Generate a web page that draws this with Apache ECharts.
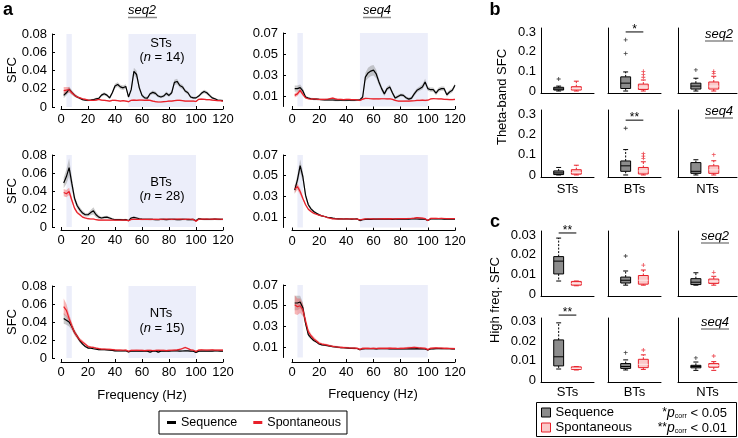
<!DOCTYPE html>
<html><head><meta charset="utf-8">
<script src="https://cdn.jsdelivr.net/npm/echarts@6/dist/echarts.min.js"></script>
<style>html,body{margin:0;padding:0;background:#fff}#c{width:738px;height:438px}</style>
</head><body><div id="c"></div>
<script>
// ---------------- DATA ----------------
const freq = [2,4,6,8,10,12,14,16,18,20,22,24,26,28,30,32,34,36,38,40,42,44,46,48,50,52,54,56,58,60,62,64,66,68,70,72,74,76,78,80,82,84,86,88,90,92,94,96,98,100,102,104,106,108,110,112,114,116,118,120];
const freqTicks = [0,20,40,60,80,100,120];
const seq2Ticks = [0,0.02,0.04,0.06,0.08];
const seq4Ticks = [0.01,0.03,0.05,0.07];
const thetaBand = [4, 8];
const highBand = [50, 100];
const cellTypes = ['STs','BTs','NTs'];
const cellCounts = [14, 28, 15];
const conditions = ['Sequence','Spontaneous'];

// STs, seq2
const st2Seq = [0.0127,0.0156,0.0195,0.016,0.013,0.011,0.0095,0.008,0.0076,0.0073,
 0.0076,0.008,0.009,0.0095,0.013,0.0145,0.013,0.010,0.0156,0.023,
 0.0247,0.022,0.021,0.0225,0.011,0.019,0.039,0.0356,0.021,0.0127,
 0.010,0.0098,0.0145,0.016,0.015,0.012,0.011,0.012,0.015,0.0127,
 0.0156,0.027,0.028,0.0236,0.022,0.0175,0.0156,0.011,0.010,0.010,
 0.012,0.015,0.017,0.0156,0.0127,0.010,0.009,0.0076,0.0073,0.007];
const st2SeqErr = [0.003,0.003,0.003,0.0025,0.002,0.0015,0.0012,0.001,0.001,0.001,
 0.001,0.001,0.0012,0.0012,0.0015,0.0018,0.0015,0.0015,0.002,0.0025,
 0.0025,0.0025,0.0025,0.0025,0.0015,0.0025,0.004,0.004,0.003,0.002,
 0.0015,0.0015,0.0018,0.002,0.002,0.0015,0.0015,0.0015,0.002,0.0018,
 0.002,0.003,0.003,0.0025,0.0025,0.002,0.002,0.0015,0.0012,0.0012,
 0.0015,0.0018,0.002,0.002,0.0018,0.0015,0.0012,0.001,0.001,0.001];
const st2Spon = [0.018,0.0185,0.019,0.0156,0.013,0.011,0.010,0.009,0.0084,0.0076,
 0.0073,0.0073,0.0076,0.0084,0.0076,0.0073,0.007,0.0065,0.0073,0.0073,
 0.007,0.0065,0.007,0.0065,0.0058,0.0073,0.0076,0.0073,0.0076,0.0076,
 0.0073,0.0076,0.0073,0.0065,0.0058,0.0055,0.0055,0.0058,0.006,0.0065,
 0.0065,0.007,0.0073,0.0073,0.007,0.0065,0.0065,0.0065,0.0065,0.006,
 0.0084,0.0087,0.0084,0.008,0.008,0.0076,0.0073,0.007,0.007,0.0065];
const st2SponErr = [0.004,0.0035,0.003,0.002,0.0015,0.001,0.001,0.0008,0.0008,0.0008,
 0.0008,0.0008,0.0008,0.0008,0.0008,0.0008,0.0008,0.0008,0.0008,0.0008,
 0.0008,0.0008,0.0008,0.0008,0.0008,0.0008,0.0008,0.0008,0.0008,0.0008,
 0.0008,0.0008,0.0008,0.0008,0.0008,0.0008,0.0008,0.0008,0.0008,0.0008,
 0.0008,0.0008,0.0008,0.0008,0.0008,0.0008,0.0008,0.0008,0.0008,0.0008,
 0.0008,0.0008,0.0008,0.0008,0.0008,0.0008,0.0008,0.0008,0.0008,0.0008];

// STs, seq4
const st4Seq = [0.017,0.017,0.018,0.0148,0.009,0.008,0.0074,0.007,0.007,0.0067,
 0.0065,0.0064,0.0063,0.0062,0.0062,0.006,0.006,0.0062,0.006,0.006,
 0.0062,0.006,0.006,0.0062,0.0064,0.009,0.028,0.032,0.0337,0.0346,
 0.031,0.0234,0.017,0.012,0.017,0.0186,0.0128,0.008,0.0096,0.011,
 0.0106,0.0083,0.007,0.008,0.012,0.0154,0.017,0.0186,0.0234,0.017,
 0.016,0.016,0.0128,0.016,0.017,0.017,0.0112,0.0138,0.0154,0.0202];
const st4SeqErr = [0.003,0.003,0.003,0.0025,0.0015,0.001,0.001,0.001,0.001,0.001,
 0.001,0.001,0.001,0.001,0.001,0.001,0.001,0.001,0.001,0.001,
 0.001,0.001,0.001,0.001,0.001,0.002,0.004,0.005,0.005,0.005,
 0.004,0.003,0.0025,0.002,0.002,0.002,0.002,0.0015,0.0015,0.0015,
 0.0015,0.0015,0.0015,0.0015,0.002,0.002,0.002,0.0025,0.003,0.002,
 0.002,0.002,0.002,0.002,0.002,0.002,0.002,0.002,0.002,0.002];
const st4Spon = [0.0106,0.012,0.0154,0.0115,0.0083,0.0074,0.007,0.0074,0.007,0.0067,
 0.0067,0.0067,0.0069,0.0075,0.008,0.0072,0.0067,0.0067,0.0065,0.0067,
 0.0067,0.0065,0.0065,0.0063,0.0058,0.007,0.0077,0.0076,0.0074,0.0072,
 0.0074,0.0072,0.0074,0.0074,0.0072,0.0074,0.0068,0.0058,0.0052,0.0051,
 0.0051,0.0052,0.0051,0.0053,0.0055,0.0058,0.0058,0.006,0.0058,0.006,
 0.0072,0.0075,0.0074,0.0072,0.0072,0.0068,0.0067,0.0066,0.0066,0.0067];
const st4SponErr = [0.002,0.002,0.002,0.0015,0.001,0.0008,0.0007,0.0007,0.0007,0.0007,
 0.0007,0.0007,0.0007,0.0007,0.0007,0.0007,0.0007,0.0007,0.0007,0.0007,
 0.0007,0.0007,0.0007,0.0007,0.0007,0.0007,0.0007,0.0007,0.0007,0.0007,
 0.0007,0.0007,0.0007,0.0007,0.0007,0.0007,0.0007,0.0007,0.0007,0.0007,
 0.0007,0.0007,0.0007,0.0007,0.0007,0.0007,0.0007,0.0007,0.0007,0.0007,
 0.0007,0.0007,0.0007,0.0007,0.0007,0.0007,0.0007,0.0007,0.0007,0.0007];

// BTs, seq2
const bt2Seq = [0.049,0.056,0.066,0.0487,0.032,0.0236,0.019,0.0155,0.0136,0.0136,
 0.016,0.018,0.0136,0.011,0.010,0.0107,0.011,0.010,0.0089,0.0081,
 0.0081,0.0081,0.008,0.0082,0.007,0.010,0.0107,0.010,0.0092,0.0088,
 0.0086,0.0085,0.0086,0.0084,0.0083,0.0082,0.0084,0.0085,0.0083,0.0085,
 0.0086,0.0084,0.0082,0.0083,0.0085,0.0084,0.0082,0.0083,0.0084,0.007,
 0.0092,0.0088,0.0085,0.0086,0.0085,0.0086,0.0087,0.0086,0.0085,0.0084];
const bt2SeqErr = [0.006,0.008,0.010,0.007,0.004,0.003,0.003,0.0025,0.002,0.002,
 0.003,0.004,0.003,0.002,0.0015,0.0015,0.0015,0.0015,0.0012,0.001,
 0.001,0.001,0.001,0.001,0.001,0.001,0.001,0.001,0.001,0.001,
 0.001,0.001,0.001,0.001,0.001,0.001,0.001,0.001,0.001,0.001,
 0.001,0.001,0.001,0.001,0.001,0.001,0.001,0.001,0.001,0.001,
 0.001,0.001,0.001,0.001,0.001,0.001,0.001,0.001,0.001,0.001];
const bt2Spon = [0.0383,0.037,0.0395,0.030,0.021,0.016,0.0136,0.011,0.010,0.0092,
 0.0089,0.0089,0.0081,0.0077,0.0077,0.0078,0.0077,0.0076,0.0077,0.0077,
 0.0078,0.0077,0.0076,0.0077,0.007,0.0084,0.0085,0.0086,0.0085,0.0084,
 0.0085,0.0086,0.0084,0.0085,0.0086,0.0084,0.0085,0.0086,0.0087,0.0086,
 0.0085,0.0086,0.0087,0.0088,0.0086,0.0085,0.0087,0.0086,0.0084,0.0063,
 0.0086,0.0088,0.0087,0.0088,0.0086,0.0087,0.0088,0.0087,0.0086,0.0085];
const bt2SponErr = [0.004,0.004,0.004,0.003,0.002,0.0015,0.001,0.001,0.001,0.001,
 0.0008,0.0008,0.0008,0.0008,0.0008,0.0008,0.0008,0.0008,0.0008,0.0008,
 0.0008,0.0008,0.0008,0.0008,0.0008,0.0008,0.0008,0.0008,0.0008,0.0008,
 0.0008,0.0008,0.0008,0.0008,0.0008,0.0008,0.0008,0.0008,0.0008,0.0008,
 0.0008,0.0008,0.0008,0.0008,0.0008,0.0008,0.0008,0.0008,0.0008,0.0008,
 0.0008,0.0008,0.0008,0.0008,0.0008,0.0008,0.0008,0.0008,0.0008,0.0008];

// BTs, seq4
const bt4Seq = [0.036,0.046,0.0597,0.049,0.031,0.022,0.018,0.0154,0.0138,0.0122,
 0.0112,0.0106,0.0099,0.0096,0.009,0.0085,0.0083,0.0083,0.0082,0.0083,
 0.0082,0.0081,0.0082,0.0083,0.0067,0.0075,0.0078,0.008,0.0079,0.008,
 0.0081,0.008,0.0082,0.008,0.0081,0.008,0.0079,0.008,0.0081,0.008,
 0.008,0.0081,0.008,0.0082,0.0083,0.0082,0.0081,0.0082,0.008,0.0067,
 0.0082,0.0083,0.0082,0.0083,0.0082,0.0081,0.0082,0.0081,0.0082,0.0081];
const bt4SeqErr = [0.004,0.005,0.006,0.005,0.003,0.002,0.0015,0.001,0.001,0.001,
 0.0006,0.0006,0.0006,0.0006,0.0006,0.0006,0.0006,0.0006,0.0006,0.0006,
 0.0006,0.0006,0.0006,0.0006,0.0006,0.0006,0.0006,0.0006,0.0006,0.0006,
 0.0006,0.0006,0.0006,0.0006,0.0006,0.0006,0.0006,0.0006,0.0006,0.0006,
 0.0006,0.0006,0.0006,0.0006,0.0006,0.0006,0.0006,0.0006,0.0006,0.0006,
 0.0006,0.0006,0.0006,0.0006,0.0006,0.0006,0.0006,0.0006,0.0006,0.0006];
const bt4Spon = [0.037,0.0395,0.0347,0.028,0.022,0.0176,0.0154,0.0138,0.0128,0.0119,
 0.0112,0.0106,0.0096,0.009,0.0083,0.0083,0.0082,0.0083,0.0082,0.0083,
 0.0082,0.0083,0.0082,0.0081,0.0074,0.0079,0.0083,0.0082,0.0084,0.0083,
 0.0082,0.0083,0.0084,0.0085,0.0084,0.0085,0.0083,0.0084,0.0085,0.0086,
 0.0085,0.0086,0.0087,0.0088,0.009,0.0096,0.0093,0.009,0.0085,0.0067,
 0.0088,0.0089,0.0088,0.0087,0.0088,0.0087,0.0086,0.0085,0.0086,0.0085];
const bt4SponErr = [0.004,0.003,0.003,0.002,0.0015,0.001,0.001,0.001,0.0008,0.0008,
 0.0006,0.0006,0.0006,0.0006,0.0006,0.0006,0.0006,0.0006,0.0006,0.0006,
 0.0006,0.0006,0.0006,0.0006,0.0006,0.0006,0.0006,0.0006,0.0006,0.0006,
 0.0006,0.0006,0.0006,0.0006,0.0006,0.0006,0.0006,0.0006,0.0006,0.0006,
 0.0006,0.0006,0.0006,0.0006,0.0006,0.0006,0.0006,0.0006,0.0006,0.0006,
 0.0006,0.0006,0.0006,0.0006,0.0006,0.0006,0.0006,0.0006,0.0006,0.0006];

// NTs, seq2
const nt2Seq = [0.044,0.042,0.040,0.035,0.0286,0.024,0.019,0.0154,0.0128,0.011,
 0.011,0.0103,0.0099,0.0092,0.0092,0.0092,0.009,0.0088,0.0085,0.008,
 0.008,0.0078,0.0079,0.008,0.0066,0.0078,0.0077,0.0079,0.0076,0.0078,
 0.0077,0.0075,0.0066,0.0076,0.0079,0.0065,0.0076,0.0078,0.0077,0.0076,
 0.0078,0.008,0.0079,0.0077,0.0078,0.008,0.0079,0.0077,0.0075,0.0062,
 0.0076,0.0078,0.0077,0.0078,0.0076,0.0077,0.0079,0.0078,0.0077,0.0076];
const nt2SeqErr = [0.006,0.005,0.005,0.004,0.003,0.0025,0.002,0.0015,0.0012,0.001,
 0.0008,0.0008,0.0008,0.0008,0.0008,0.0008,0.0008,0.0008,0.0008,0.0008,
 0.0008,0.0008,0.0008,0.0008,0.0008,0.0008,0.0008,0.0008,0.0008,0.0008,
 0.0008,0.0008,0.0008,0.0008,0.0008,0.0008,0.0008,0.0008,0.0008,0.0008,
 0.0008,0.0008,0.0008,0.0008,0.0008,0.0008,0.0008,0.0008,0.0008,0.0008,
 0.0008,0.0008,0.0008,0.0008,0.0008,0.0008,0.0008,0.0008,0.0008,0.0008];
const nt2Spon = [0.057,0.053,0.044,0.0356,0.0286,0.024,0.020,0.0176,0.0154,0.0128,
 0.012,0.0117,0.011,0.0104,0.0099,0.0099,0.0097,0.0095,0.0093,0.009,
 0.0088,0.0087,0.0086,0.0087,0.0075,0.0084,0.0085,0.0086,0.0085,0.0084,
 0.0082,0.0084,0.0085,0.0083,0.0084,0.0086,0.0085,0.0084,0.0083,0.0085,
 0.0086,0.0088,0.009,0.0095,0.0105,0.0117,0.0105,0.009,0.0086,0.0073,
 0.0088,0.009,0.0089,0.0088,0.0089,0.009,0.0088,0.0087,0.0088,0.0087];
const nt2SponErr = [0.009,0.007,0.005,0.004,0.003,0.0025,0.002,0.002,0.0015,0.0015,
 0.001,0.001,0.001,0.001,0.001,0.001,0.001,0.001,0.001,0.001,
 0.001,0.001,0.001,0.001,0.001,0.001,0.001,0.001,0.001,0.001,
 0.001,0.001,0.001,0.001,0.001,0.001,0.001,0.001,0.001,0.001,
 0.001,0.001,0.001,0.001,0.001,0.001,0.001,0.001,0.001,0.001,
 0.001,0.001,0.001,0.001,0.001,0.001,0.001,0.001,0.001,0.001];

// NTs, seq4
const nt4Seq = [0.0526,0.0526,0.0536,0.048,0.033,0.022,0.019,0.0164,0.015,0.013,
 0.0122,0.0118,0.0114,0.011,0.0105,0.0102,0.0099,0.0096,0.0094,0.0092,
 0.009,0.0089,0.0088,0.0087,0.0075,0.0084,0.0086,0.0085,0.0086,0.0085,
 0.0084,0.0085,0.0086,0.0087,0.0085,0.0084,0.0083,0.0084,0.0083,0.0084,
 0.0083,0.0082,0.0084,0.0083,0.0084,0.0085,0.0084,0.0083,0.0082,0.0072,
 0.0082,0.0084,0.0086,0.0087,0.0086,0.0085,0.0086,0.0085,0.0084,0.0083];
const nt4SeqErr = [0.007,0.007,0.006,0.005,0.003,0.002,0.0015,0.0012,0.001,0.001,
 0.0008,0.0008,0.0008,0.0008,0.0008,0.0008,0.0008,0.0008,0.0008,0.0008,
 0.0008,0.0008,0.0008,0.0008,0.0008,0.0008,0.0008,0.0008,0.0008,0.0008,
 0.0008,0.0008,0.0008,0.0008,0.0008,0.0008,0.0008,0.0008,0.0008,0.0008,
 0.0008,0.0008,0.0008,0.0008,0.0008,0.0008,0.0008,0.0008,0.0008,0.0008,
 0.0008,0.0008,0.0008,0.0008,0.0008,0.0008,0.0008,0.0008,0.0008,0.0008];
const nt4Spon = [0.051,0.049,0.05,0.046,0.035,0.025,0.021,0.018,0.016,0.0138,
 0.013,0.0125,0.012,0.0113,0.0108,0.0104,0.01,0.0098,0.0096,0.0094,
 0.0092,0.0091,0.009,0.0089,0.0078,0.0088,0.0089,0.0088,0.0087,0.0088,
 0.0087,0.0088,0.0089,0.0088,0.0089,0.009,0.0089,0.0088,0.0087,0.0088,
 0.0089,0.0091,0.0093,0.0095,0.0097,0.0095,0.0092,0.009,0.0088,0.0076,
 0.0089,0.0091,0.0092,0.0091,0.009,0.0089,0.0088,0.0087,0.0086,0.0085];
const nt4SponErr = [0.009,0.008,0.007,0.006,0.004,0.003,0.002,0.002,0.0015,0.0015,
 0.001,0.001,0.001,0.001,0.001,0.001,0.001,0.001,0.001,0.001,
 0.001,0.001,0.001,0.001,0.001,0.001,0.001,0.001,0.001,0.001,
 0.001,0.001,0.001,0.001,0.001,0.001,0.001,0.001,0.001,0.001,
 0.001,0.001,0.001,0.001,0.001,0.001,0.001,0.001,0.001,0.001,
 0.001,0.001,0.001,0.001,0.001,0.001,0.001,0.001,0.001,0.001];

// Box plots: [min, q1, median, q3, max] for STs, BTs, NTs
const thetaTicks = [0, 0.1, 0.2, 0.3];
const highTicks = [0, 0.01, 0.02, 0.03];
const thetaSeq2Sequence = [[0,0.005,0.01,0.019,0.025],[0,0.013,0.04,0.072,0.097],[0,0.01,0.025,0.04,0.065]];
const thetaSeq2Spontaneous = [[0,0.005,0.012,0.022,0.05],[0,0.008,0.02,0.035,0.056],[0,0.01,0.025,0.046,0.075]];
const thetaSeq2SequenceOut = [[0.061],[0.19,0.26],[0.107]];
const thetaSeq2SpontaneousOut = [[],[0.07,0.085,0.1],[0.09,0.1]];
const thetaSeq4Sequence = [[0,0.002,0.01,0.02,0.037],[0,0.018,0.045,0.069,0.125],[0,0.008,0.018,0.061,0.075]];
const thetaSeq4Spontaneous = [[0,0.004,0.012,0.026,0.048],[0,0.005,0.02,0.037,0.065],[0,0.008,0.025,0.045,0.07]];
const thetaSeq4SequenceOut = [[],[0.23],[]];
const thetaSeq4SpontaneousOut = [[],[0.082,0.093,0.105],[0.1]];
const highSeq2Sequence = [[0.0066,0.0102,0.0167,0.019,0.0284],[0.0045,0.0056,0.007,0.0086,0.0117],[0.0045,0.0048,0.006,0.0078,0.0108]];
const highSeq2Spontaneous = [[0.0042,0.0045,0.0053,0.0064,0.0066],[0.0045,0.005,0.007,0.0094,0.0122],[0.0045,0.0054,0.0065,0.0076,0.009]];
const highSeq2SequenceOut = [[],[0.0193],[]];
const highSeq2SpontaneousOut = [[],[0.0147],[0.011]];
const highSeq4Sequence = [[0.0057,0.0073,0.012,0.0207,0.0295],[0.0052,0.006,0.007,0.0085,0.0104],[0.005,0.0063,0.007,0.0076,0.0093]];
const highSeq4Spontaneous = [[0.0052,0.0055,0.006,0.0068,0.007],[0.0055,0.0064,0.0081,0.0107,0.013],[0.005,0.0066,0.0075,0.0085,0.0095]];
const highSeq4SequenceOut = [[],[0.0141],[0.0114]];
const highSeq4SpontaneousOut = [[],[0.0155],[0.0124]];
// significance: [cell type index, bar level, marker]
const thetaSeq2Sig = [[1, 0.30, '*']];
const thetaSeq4Sig = [[1, 0.27, '**']];
const highSeq2Sig = [[0, 0.031, '**']];
const highSeq4Sig = [[0, 0.0335, '**']];

// ---------------- CHART ----------------
const FONT = "'Liberation Sans', Arial, Helvetica, sans-serif";
const BLACK = '#000000', RED = '#e8202a';
const chart = echarts.init(document.getElementById('c'), null, {renderer:'canvas'});
const grids = [], xAxes = [], yAxes = [], series = [], graphics = [];

function txt(text, x, y, style, rot) {
  return {type:'text', x:x, y:y, z:100, rotation:rot || 0, silent:true,
    style:Object.assign({text:text, fill:'#000', fontSize:13, fontFamily:FONT, align:'center', verticalAlign:'middle'}, style || {})};
}
function uline(x1, x2, y) {
  return {type:'line', z:100, silent:true, shape:{x1:x1, y1:y, x2:x2, y2:y}, style:{stroke:'#8a8a8a', lineWidth:1.5}};
}

// Panel a
const panelA = [
  {cell:0, g:{left:61, top:34, width:162, height:73}, xOff:2, ymax:0.08, ticks:seq2Ticks, d:[st2Seq, st2SeqErr, st2Spon, st2SponErr]},
  {cell:0, g:{left:292, top:33, width:163, height:73.5}, xOff:2.5, ymax:0.07, ticks:seq4Ticks, d:[st4Seq, st4SeqErr, st4Spon, st4SponErr]},
  {cell:1, g:{left:61, top:155, width:162, height:72}, xOff:3, ymax:0.08, ticks:seq2Ticks, d:[bt2Seq, bt2SeqErr, bt2Spon, bt2SponErr]},
  {cell:1, g:{left:292, top:155, width:163, height:72.5}, xOff:3, ymax:0.07, ticks:seq4Ticks, d:[bt4Seq, bt4SeqErr, bt4Spon, bt4SponErr]},
  {cell:2, g:{left:61, top:286, width:162, height:72}, xOff:4, ymax:0.08, ticks:seq2Ticks, d:[nt2Seq, nt2SeqErr, nt2Spon, nt2SponErr]},
  {cell:2, g:{left:292, top:285, width:163, height:72.5}, xOff:4.5, ymax:0.07, ticks:seq4Ticks, d:[nt4Seq, nt4SeqErr, nt4Spon, nt4SponErr]}
];

function bandSeries(g, mean, err, fill) {
  return {type:'custom', xAxisIndex:g, yAxisIndex:g, silent:true, z:2, animation:false,
    data:[[freq[0], mean[0]]],
    renderItem:function(params, api) {
      const pts = [];
      for (let i = 0; i < freq.length; i++) pts.push(api.coord([freq[i], mean[i] + err[i]]));
      for (let i = freq.length - 1; i >= 0; i--) pts.push(api.coord([freq[i], Math.max(0, mean[i] - err[i])]));
      return {type:'polygon', shape:{points:pts}, style:{fill:fill}};
    }};
}

panelA.forEach(function(p, i) {
  grids.push(Object.assign({outerBoundsMode:'none', containLabel:false}, p.g));
  xAxes.push({type:'value', gridIndex:i, min:0, max:120, interval:20, offset:p.xOff,
    axisLine:{show:true, onZero:false, lineStyle:{color:'#000', width:1}},
    axisTick:{show:true, inside:true, length:3, lineStyle:{color:'#000'}},
    axisLabel:{fontSize:13, color:'#000', fontFamily:FONT, margin:4, customValues:freqTicks},
    splitLine:{show:false}});
  yAxes.push({type:'value', gridIndex:i, min:0, max:p.ymax, offset:9,
    axisLine:{show:true, onZero:false, lineStyle:{color:'#000', width:1}},
    axisTick:{show:true, inside:true, length:3, customValues:p.ticks, lineStyle:{color:'#000'}},
    axisLabel:{fontSize:13, color:'#000', fontFamily:FONT, margin:5, customValues:p.ticks},
    splitLine:{show:false}});
  series.push({type:'line', xAxisIndex:i, yAxisIndex:i, data:[], silent:true, z:0, animation:false,
    markArea:{silent:true, itemStyle:{color:'#eceefa'},
      data:[[{xAxis:thetaBand[0]}, {xAxis:thetaBand[1]}], [{xAxis:highBand[0]}, {xAxis:highBand[1]}]]}});
  series.push(bandSeries(i, p.d[0], p.d[1], 'rgba(140,140,140,0.45)'));
  series.push(bandSeries(i, p.d[2], p.d[3], 'rgba(240,90,90,0.45)'));
  series.push({type:'line', name:'Sequence', xAxisIndex:i, yAxisIndex:i, z:3, silent:true, animation:false,
    data:freq.map(function(f, k){ return [f, p.d[0][k]]; }), showSymbol:false, symbol:'none',
    lineStyle:{color:BLACK, width:1.2}, itemStyle:{color:BLACK}});
  series.push({type:'line', name:'Spontaneous', xAxisIndex:i, yAxisIndex:i, z:4, silent:true, animation:false,
    data:freq.map(function(f, k){ return [f, p.d[2][k]]; }), showSymbol:false, symbol:'none',
    lineStyle:{color:RED, width:1.2}, itemStyle:{color:RED}});
});

// Panel a annotations
const labelY = [[43, 57], [182, 196], [313, 328]];
cellTypes.forEach(function(c, r) {
  graphics.push(txt(c, 161, labelY[r][0]));
  graphics.push(txt('({i|n} = ' + cellCounts[r] + ')', 162, labelY[r][1],
    {rich:{i:{fontStyle:'italic', fontSize:13, fontFamily:FONT}}}));
});
[70, 191, 322].forEach(function(y) { graphics.push(txt('SFC', 12, y, {}, Math.PI / 2)); });
graphics.push(txt('Frequency (Hz)', 142, 395));
graphics.push(txt('Frequency (Hz)', 373, 394));
graphics.push(txt('seq2', 142, 10.5, {fontStyle:'italic'}));
graphics.push(uline(128, 157, 17.5));
graphics.push(txt('seq4', 377, 10.5, {fontStyle:'italic'}));
graphics.push(uline(363, 391, 17.5));
graphics.push(txt('a', 8, 19, {fontSize:18, fontWeight:'bold', verticalAlign:'bottom'}));
graphics.push(txt('b', 495, 19, {fontSize:18, fontWeight:'bold', verticalAlign:'bottom'}));
graphics.push(txt('c', 495, 231, {fontSize:18, fontWeight:'bold', verticalAlign:'bottom'}));

// Panels b and c
const boxRows = [
  {top:28, height:65, ymin:-0.01, ymax:0.32, ticks:thetaTicks, seq:thetaSeq2Sequence, spon:thetaSeq2Spontaneous, seqOut:thetaSeq2SequenceOut, sponOut:thetaSeq2SpontaneousOut, sig:thetaSeq2Sig, names:false},
  {top:110, height:67, ymin:-0.01, ymax:0.32, ticks:thetaTicks, seq:thetaSeq4Sequence, spon:thetaSeq4Spontaneous, seqOut:thetaSeq4SequenceOut, sponOut:thetaSeq4SpontaneousOut, sig:thetaSeq4Sig, names:true, nameGap:6},
  {top:231, height:65, ymin:-0.001, ymax:0.032, ticks:highTicks, seq:highSeq2Sequence, spon:highSeq2Spontaneous, seqOut:highSeq2SequenceOut, sponOut:highSeq2SpontaneousOut, sig:highSeq2Sig, names:false},
  {top:318, height:64, ymin:-0.001, ymax:0.032, ticks:highTicks, seq:highSeq4Sequence, spon:highSeq4Spontaneous, seqOut:highSeq4SequenceOut, sponOut:highSeq4SpontaneousOut, sig:highSeq4Sig, names:true, nameGap:4}
];
const boxCols = [{left:541, width:53, xmax:3}, {left:608, width:53, xmax:3}, {left:678, width:59, xmax:3.3}];

function boxSeries(g, name, box, stroke, fill, med, xPos) {
  return {type:'custom', name:name, xAxisIndex:g, yAxisIndex:g, silent:true, z:3, animation:false,
    data:[[xPos].concat(box)],
    renderItem:function(params, api) {
      const x = api.value(0);
      const cx = api.coord([x, api.value(3)])[0];
      const y = [1,2,3,4,5].map(function(k){ return api.coord([x, api.value(k)])[1]; });
      const w = api.size([0.56, 0])[0];
      const cw = w * 0.5;
      const dash = {stroke:stroke, lineWidth:1, lineDash:[2, 1.5]};
      const solid = {stroke:stroke, lineWidth:1};
      return {type:'group', children:[
        {type:'line', shape:{x1:cx, y1:y[3], x2:cx, y2:y[4]}, style:dash},
        {type:'line', shape:{x1:cx, y1:y[1], x2:cx, y2:y[0]}, style:dash},
        {type:'line', shape:{x1:cx - cw / 2, y1:y[4], x2:cx + cw / 2, y2:y[4]}, style:solid},
        {type:'line', shape:{x1:cx - cw / 2, y1:y[0], x2:cx + cw / 2, y2:y[0]}, style:solid},
        {type:'rect', shape:{x:cx - w / 2, y:y[3], width:w, height:Math.max(1, y[1] - y[3])}, style:{fill:fill, stroke:stroke, lineWidth:1}},
        {type:'line', shape:{x1:cx - w / 2, y1:y[2], x2:cx + w / 2, y2:y[2]}, style:{stroke:med, lineWidth:1}}
      ]};
    }};
}
const plusSym = 'path://M4,0H6V4H10V6H6V10H4V6H0V4H4Z';

let gi = grids.length;
boxRows.forEach(function(row, r) {
  boxCols.forEach(function(col, c) {
    const g = gi++;
    grids.push({outerBoundsMode:'none', containLabel:false, left:col.left, top:row.top, width:col.width, height:row.height});
    xAxes.push({type:'value', gridIndex:g, min:0, max:col.xmax,
      axisLine:{show:true, onZero:false, lineStyle:{color:'#000', width:1}},
      axisTick:{show:false}, axisLabel:{show:false}, splitLine:{show:false},
      name:row.names ? cellTypes[c] : '', nameLocation:'middle', nameGap:row.nameGap || 0,
      nameTextStyle:{fontSize:13, color:'#000', fontFamily:FONT, verticalAlign:'top'}});
    yAxes.push({type:'value', gridIndex:g, min:row.ymin, max:row.ymax,
      axisLine:{show:true, onZero:false, lineStyle:{color:'#000', width:1}},
      axisTick:{show:false}, splitLine:{show:false},
      axisLabel:{show:c === 0, fontSize:13, color:'#000', fontFamily:FONT, margin:5, customValues:row.ticks}});
    series.push(boxSeries(g, conditions[0], row.seq[c], '#000', '#8c8c8c', '#000', 1));
    series.push(boxSeries(g, conditions[1], row.spon[c], RED, '#fbc9c9', '#fde8e8', 2));
    if (row.seqOut[c].length) series.push({type:'scatter', xAxisIndex:g, yAxisIndex:g, silent:true, z:4, animation:false,
      data:row.seqOut[c].map(function(v){ return [1, v]; }), symbol:plusSym, symbolSize:4, itemStyle:{color:'#111'}});
    if (row.sponOut[c].length) series.push({type:'scatter', xAxisIndex:g, yAxisIndex:g, silent:true, z:4, animation:false,
      data:row.sponOut[c].map(function(v){ return [2, v]; }), symbol:plusSym, symbolSize:4, itemStyle:{color:RED}});
    row.sig.forEach(function(s) {
      if (s[0] !== c) return;
      series.push({type:'custom', xAxisIndex:g, yAxisIndex:g, silent:true, z:5, animation:false,
        data:[[1, 2, s[1]]],
        renderItem:function(params, api) {
          const p1 = api.coord([api.value(0), api.value(2)]);
          const p2 = api.coord([api.value(1), api.value(2)]);
          return {type:'group', children:[
            {type:'line', shape:{x1:p1[0], y1:p1[1], x2:p2[0], y2:p2[1]}, style:{stroke:'#000', lineWidth:1}},
            {type:'text', x:(p1[0] + p2[0]) / 2, y:p1[1] + 4,
              style:{text:s[2], fill:'#000', fontSize:12, fontFamily:FONT, align:'center', verticalAlign:'bottom'}}
          ]};
        }});
    });
  });
});

graphics.push(txt('Theta-band SFC', 502, 97, {}, Math.PI / 2));
graphics.push(txt('High freq. SFC', 495, 300, {}, Math.PI / 2));
[[719, 34, 'seq2'], [719, 111, 'seq4'], [715, 236, 'seq2'], [715, 322, 'seq4']].forEach(function(s) {
  graphics.push(txt(s[2], s[0], s[1], {fontStyle:'italic'}));
  graphics.push(uline(s[0] - 14, s[0] + 14, s[1] + 7));
});

// Panel c legend box & p-value key
graphics.push({type:'rect', z:100, silent:true, shape:{x:536.5, y:402.5, width:200, height:34}, style:{fill:'none', stroke:'#000', lineWidth:1}});
const pRich = {st:{fontSize:12, fontFamily:FONT}, p:{fontSize:14, fontStyle:'italic', fontFamily:FONT},
  sub:{fontSize:7, fontFamily:FONT, padding:[7,0,0,0]}, t:{fontSize:13, fontFamily:FONT}};
graphics.push(txt('{st|*}{p|p}{sub|corr}{t| < 0.05}', 727, 413, {align:'right', rich:pRich}));
graphics.push(txt('{st|**}{p|p}{sub|corr}{t| < 0.01}', 727, 428, {align:'right', rich:pRich}));

const option = {
  backgroundColor:'#ffffff',
  animation:false,
  textStyle:{fontFamily:FONT},
  grid:grids, xAxis:xAxes, yAxis:yAxes, series:series, graphic:graphics,
  legend:[
    {left:159, top:411, orient:'horizontal', selectedMode:false, itemWidth:9, itemHeight:3, itemGap:16,
      borderColor:'#000', borderWidth:1, padding:[5,6,5,8], borderRadius:0,
      textStyle:{fontSize:12.5, color:'#000', fontFamily:FONT},
      data:[{name:'Sequence', icon:'rect', itemStyle:{color:BLACK, borderWidth:0}},
            {name:'Spontaneous', icon:'rect', itemStyle:{color:RED, borderWidth:0}}]},
    {left:541, top:405, orient:'vertical', selectedMode:false, itemWidth:9, itemHeight:9, itemGap:0,
      padding:0, textStyle:{fontSize:13, color:'#000', fontFamily:FONT, lineHeight:15},
      data:[{name:'Sequence', icon:'rect', itemStyle:{color:'#8c8c8c', borderColor:'#000', borderWidth:1}},
            {name:'Spontaneous', icon:'rect', itemStyle:{color:'#fbc9c9', borderColor:RED, borderWidth:1}}]}
  ]
};
chart.setOption(option);
</script>
</body></html>
